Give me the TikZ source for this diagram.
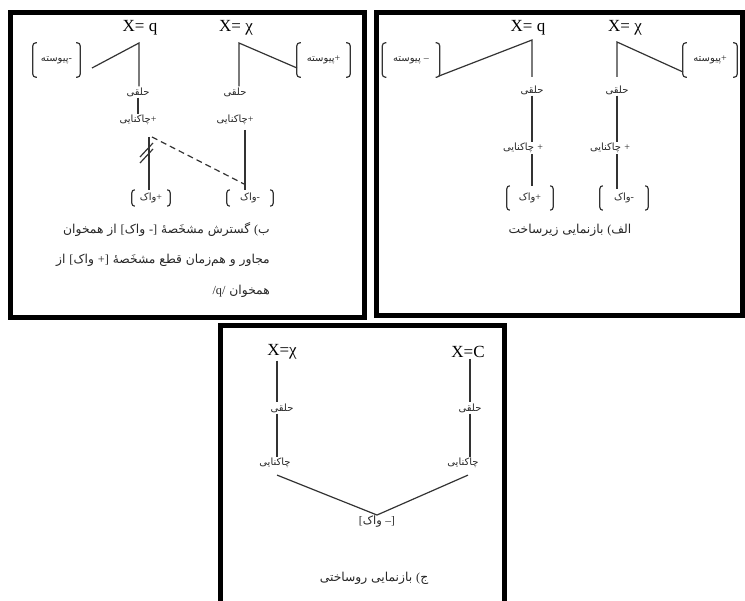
\documentclass[tikz,border=0pt]{standalone}
\usepackage{fontspec}
\setmainfont{Liberation Serif}
\newfontfamily\fa[Script=Arabic]{DejaVu Sans}
\newfontfamily\lat{Liberation Serif}
\TeXXeTstate=1
\usetikzlibrary{calc}
\newcommand{\wrd}[1]{\mbox{#1}}
\newcommand{\lw}[1]{\mbox{\lat #1}}
\tikzset{
 frame/.style={line width=5pt, draw=black},
 edge/.style={line width=1.2pt, draw=black!80},
 lbl/.style={inner sep=1pt, font={\fa\fontsize{10}{12}\selectfont}, text=black!85},
 sym/.style={inner sep=1pt, font={\lat\fontsize{17}{20}\selectfont}},
 brk/.style={line width=1.2pt, draw=black!80, rounded corners=3pt},
 bnode/.style={lbl, inner sep=0pt},
 captxt/.style={lbl, font={\fa\fontsize{12.3}{14}\selectfont}}
}
\newcommand{\bracketsaround}[2][4pt]{%
 \draw[brk] ([xshift=#1]#2.north west) -- (#2.north west) -- (#2.south west) -- ([xshift=#1]#2.south west);
 \draw[brk] ([xshift=-#1]#2.north east) -- (#2.north east) -- (#2.south east) -- ([xshift=-#1]#2.south east);}
\begin{document}
\begin{tikzpicture}[x=1pt,y=-1pt]
\useasboundingbox (0,0) rectangle (745,601);
% frames
\draw[frame] (10.5,12.5) rectangle (364.5,317.5);
\draw[frame] (376,12.5) rectangle (742,315.5);
\draw[frame] (220.5,325.5) rectangle (504.5,612);

% ---------- box B (left) ----------
\node[sym] (xq1) at (140,28) {X= q};
\node[sym] (xc1) at (236,28) {X= χ};
\coordinate (t1) at (139,43);
\coordinate (t2) at (239,43);
\node[bnode, minimum width=47pt, minimum height=34pt] (p1) at (56.5,60) {\wrd{پیوسته}\lw{-}};
\node[bnode, minimum width=53pt, minimum height=34pt] (p2) at (323.5,60) {\wrd{پیوسته}\lw{+}};
\bracketsaround{p1}
\bracketsaround{p2}
\coordinate (d1) at (92,68);
\coordinate (d2) at (297,68);
\node[lbl] (h1) at (138,92) {\wrd{حلقی}};
\node[lbl] (c1) at (138,120) {\wrd{چاکنایی}\lw{+}};
\node[lbl] (h2) at (235,92) {\wrd{حلقی}};
\node[lbl] (c2) at (235,120) {\wrd{چاکنایی}\lw{+}};
\draw[edge] (d1) -- (t1) -- (t1 |- h1.north);
\draw[edge] (d2) -- (t2) -- (t2 |- h2.north);
\draw[edge] (h1.south) -- (c1.north);
\node[bnode, minimum width=38pt, minimum height=16pt] (w1) at (151,198) {\wrd{واک}\lw{+}};
\node[bnode, minimum width=46pt, minimum height=16pt] (w2) at (250,198) {\wrd{واک}\lw{-}};
\bracketsaround[3pt]{w1}
\bracketsaround[3pt]{w2}
\coordinate (m1) at (149,137);
\coordinate (r1) at (245,130);
\coordinate (m2) at (244,184);
\draw[edge] (m1) -- (m1 |- w1.north);
\draw[edge] (r1) -- (r1 |- w2.north);
\draw[edge, dash pattern=on 6pt off 4pt] ([xshift=3pt]m1) -- (m2);
\draw[edge] (140,157) -- (153,143);
\draw[edge] (140,163) -- (153,149);
\node[captxt, anchor=east] (cb1) at (271,229) {\beginR\wrd{ب}\lw{(} \wrd{گسترش} \wrd{مشخَصهٔ} \lw{]}\lw{-} \wrd{واک}\lw{[} \wrd{از} \wrd{همخوان}\endR};
\node[captxt, anchor=east] (cb2) at (271,260) {\beginR\wrd{مجاور} \wrd{و} \wrd{هم‌زمان} \wrd{قطع} \wrd{مشخَصهٔ} \lw{]}\lw{+} \wrd{واک}\lw{[} \wrd{از}\endR};
\node[captxt, anchor=east] (cb3) at (271,291) {\beginR\wrd{همخوان} \lw{/q/}\endR};

% ---------- box A (right) ----------
\node[sym] (xq2) at (528,28) {X= q};
\node[sym] (xc2) at (625,28) {X= χ};
\coordinate (t3) at (532,40);
\coordinate (t4) at (617,42);
\node[bnode, minimum width=57pt, minimum height=34pt] (p3) at (411,60) {\wrd{پیوسته} \lw{–}};
\node[bnode, minimum width=54pt, minimum height=34pt] (p4) at (710,60) {\wrd{پیوسته}\lw{+}};
\bracketsaround{p3}
\bracketsaround{p4}
\coordinate (d3) at (439,76);
\coordinate (d4) at (683,72);
\node[lbl] (h3) at (532,90) {\wrd{حلقی}};
\node[lbl] (h4) at (617,90) {\wrd{حلقی}};
\node[lbl] (c3) at (523,148) {\wrd{چاکنایی} \lw{+}};
\node[lbl] (c4) at (610,148) {\wrd{چاکنایی} \lw{+}};
\draw[edge] (d3) -- (t3) -- (t3 |- 0,77);
\draw[edge] (d4) -- (t4) -- (t4 |- 0,77);
\draw[edge] (h3.south -| t3) -- (c3.north -| t3);
\draw[edge] (h4.south -| t4) -- (c4.north -| t4);
\node[bnode, minimum width=46pt, minimum height=24pt] (w3) at (530,198) {\wrd{واک}\lw{+}};
\node[bnode, minimum width=48pt, minimum height=24pt] (w4) at (624,198) {\wrd{واک}\lw{-}};
\bracketsaround[3pt]{w3}
\bracketsaround[3pt]{w4}
\draw[edge] (c3.south -| t3) -- (w3.north -| t3);
\draw[edge] (c4.south -| t4) -- ([yshift=-3pt]w4.north -| t4);
\node[captxt] (ca) at (570,230) {\beginR\wrd{الف}\lw{(} \wrd{بازنمایی} \wrd{زیرساخت}\endR};

% ---------- box C (bottom) ----------
\node[sym] (xc3) at (282,352) {X=χ};
\node[sym] (xC) at (468,352) {X=C};
\node[lbl] (h5) at (282,408) {\wrd{حلقی}};
\node[lbl] (h6) at (470,408) {\wrd{حلقی}};
\node[lbl] (c5) at (275,463) {\wrd{چاکنایی}};
\node[lbl] (c6) at (463,463) {\wrd{چاکنایی}};
\draw[edge] ([xshift=-5pt]xc3.south) -- ([xshift=-5pt]h5.north);
\draw[edge] ([xshift=2pt]xC.south) -- (h6.north);
\draw[edge] ([xshift=-5pt]h5.south) -- ([xshift=2pt]c5.north);
\draw[edge] (h6.south) -- ([xshift=7pt]c6.north);
\node[lbl, font={\fa\fontsize{11.5}{13}\selectfont}] (wk) at (377,522) {\beginR\lw{]}\lw{–} \wrd{واک}\lw{[}\endR};
\draw[edge] ([xshift=2pt,yshift=-6pt]c5.south) -- (wk.north) -- ([xshift=5pt,yshift=-6pt]c6.south);
\node[captxt] (cc) at (374,578) {\beginR\wrd{ج}\lw{(} \wrd{بازنمایی} \wrd{روساختی}\endR};
\end{tikzpicture}
\end{document}
